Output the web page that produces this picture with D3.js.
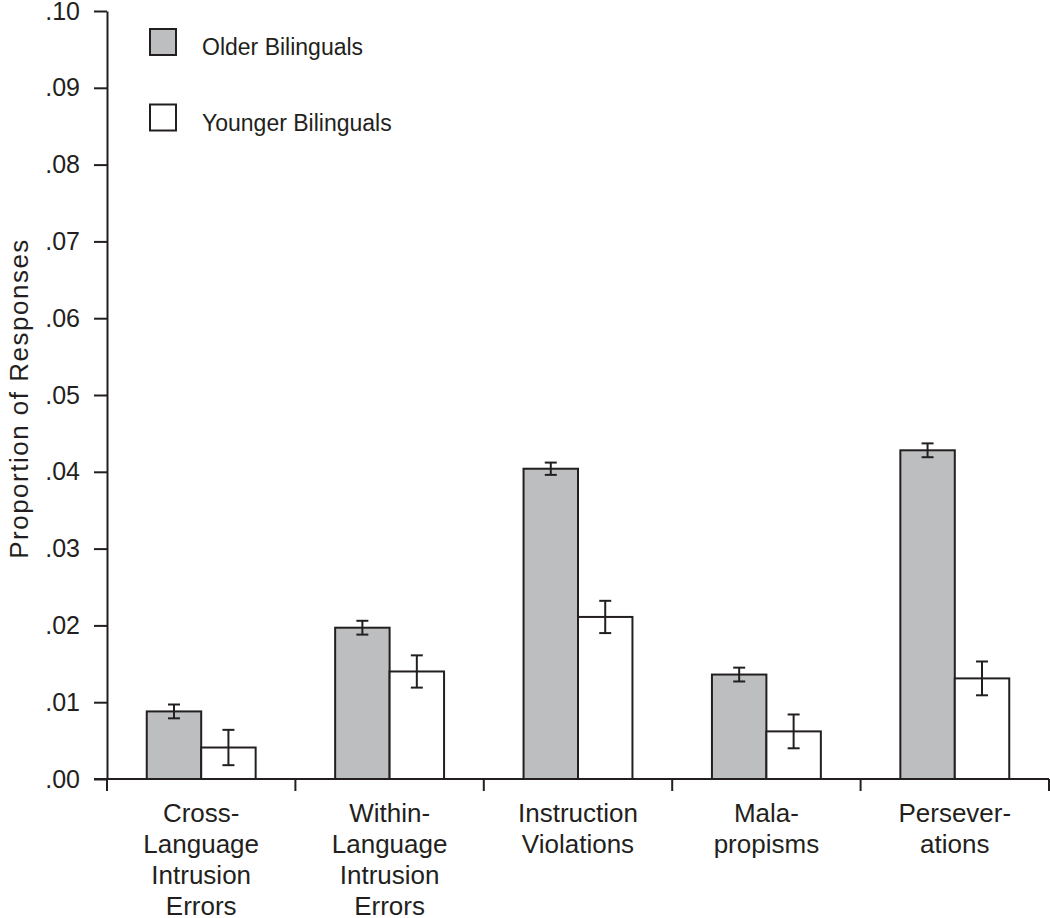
<!DOCTYPE html>
<html>
<head>
<meta charset="utf-8">
<script src="https://cdn.jsdelivr.net/npm/d3@7"></script>
<style>
  body { margin: 0; background: #fff; }
  svg text { font-family: "Liberation Sans", Arial, sans-serif; fill: #231f20; }
</style>
</head>
<body>
<svg width="1050" height="918"></svg>
<script>
//data
const categories = ["Cross-Language Intrusion Errors", "Within-Language Intrusion Errors", "Instruction Violations", "Malapropisms", "Perseverations"];
const categoryLines = [
    ["Cross-", "Language", "Intrusion", "Errors"],
    ["Within-", "Language", "Intrusion", "Errors"],
    ["Instruction", "Violations"],
    ["Mala-", "propisms"],
    ["Persever-", "ations"]
];
const groups = ["Older Bilinguals", "Younger Bilinguals"];
const olderValues = [0.0088, 0.0197, 0.0404, 0.0136, 0.0428];
const olderErrors = [0.0009, 0.0009, 0.0008, 0.0009, 0.0009];
const youngerValues = [0.0041, 0.0140, 0.0211, 0.0062, 0.0131];
const youngerErrors = [0.0023, 0.0021, 0.0021, 0.0022, 0.0022];
const yTicks = [0, 0.01, 0.02, 0.03, 0.04, 0.05, 0.06, 0.07, 0.08, 0.09, 0.10];

const ink = "#231f20";
const colors = {"Older Bilinguals": "#bdbec0", "Younger Bilinguals": "#ffffff"};

//layout
const margin = {top: 11, right: 1, bottom: 139, left: 107};
const width = 1050 - margin.left - margin.right;
const height = 918 - margin.top - margin.bottom;

const rows = [];
categories.forEach((c, i) => {
    rows.push({cat: c, group: groups[0], value: olderValues[i], err: olderErrors[i]});
    rows.push({cat: c, group: groups[1], value: youngerValues[i], err: youngerErrors[i]});
});

//scales
const x0 = d3.scaleBand()
    .domain(categories)
    .range([0, width])
    .padding(0);

const x1 = d3.scaleBand()
    .domain(groups)
    .range([0, x0.bandwidth()])
    .paddingInner(0)
    .paddingOuter(0.73);

const y = d3.scaleLinear()
    .domain([0, 0.10])
    .range([height, 0]);

const svg = d3.select("svg")
    .append("g")
    .attr("transform", "translate(" + margin.left + "," + margin.top + ")");

//y axis
const gY = svg.append("g")
    .call(d3.axisLeft(y)
        .tickValues(yTicks)
        .tickSize(13)
        .tickPadding(14)
        .tickSizeOuter(0)
        .tickFormat(d => d3.format(".2f")(d).replace(/^0/, "")));

gY.select(".domain").attr("stroke", ink).attr("stroke-width", 2);
gY.selectAll(".tick line").attr("stroke", ink).attr("stroke-width", 2);
gY.selectAll(".tick text")
    .style("font-size", "25px")
    .style("font-family", "'Liberation Sans', Arial, sans-serif")
    .attr("fill", ink);

//y label
svg.append("text")
    .attr("transform", "rotate(-90)")
    .attr("x", -387.5)
    .attr("y", -79)
    .style("text-anchor", "middle")
    .style("font-size", "26px")
    .style("letter-spacing", "1.5px")
    .text("Proportion of Responses");

//bars
const barG = svg.append("g");

barG.selectAll(".bar")
    .data(rows)
    .enter()
    .append("rect")
    .attr("class", "bar")
    .attr("x", d => x0(d.cat) + x1(d.group))
    .attr("y", d => y(d.value))
    .attr("width", x1.bandwidth())
    .attr("height", d => y(0) - y(d.value))
    .attr("fill", d => colors[d.group])
    .attr("stroke", ink)
    .attr("stroke-width", 2);

//error bars
const capW = 6;
const errG = barG.selectAll(".err")
    .data(rows)
    .enter()
    .append("g")
    .attr("class", "err")
    .attr("stroke", ink)
    .attr("stroke-width", 2);

errG.append("line")
    .attr("x1", d => x0(d.cat) + x1(d.group) + x1.bandwidth() / 2)
    .attr("x2", d => x0(d.cat) + x1(d.group) + x1.bandwidth() / 2)
    .attr("y1", d => y(d.value + d.err))
    .attr("y2", d => y(d.value - d.err));

errG.append("line")
    .attr("x1", d => x0(d.cat) + x1(d.group) + x1.bandwidth() / 2 - capW)
    .attr("x2", d => x0(d.cat) + x1(d.group) + x1.bandwidth() / 2 + capW)
    .attr("y1", d => y(d.value + d.err))
    .attr("y2", d => y(d.value + d.err));

errG.append("line")
    .attr("x1", d => x0(d.cat) + x1(d.group) + x1.bandwidth() / 2 - capW)
    .attr("x2", d => x0(d.cat) + x1(d.group) + x1.bandwidth() / 2 + capW)
    .attr("y1", d => y(d.value - d.err))
    .attr("y2", d => y(d.value - d.err));

//x axis
const gX = svg.append("g")
    .attr("transform", "translate(0," + height + ")");

gX.append("line")
    .attr("x1", -13)
    .attr("x2", width)
    .attr("stroke", ink)
    .attr("stroke-width", 2);

const edges = categories.map(c => x0(c)).concat([x0.range()[1]]);
gX.selectAll(".xtick")
    .data(edges)
    .enter()
    .append("line")
    .attr("class", "xtick")
    .attr("x1", d => d)
    .attr("x2", d => d)
    .attr("y1", 0)
    .attr("y2", 12)
    .attr("stroke", ink)
    .attr("stroke-width", 2);

const labels = gX.selectAll(".xlabel")
    .data(categories)
    .enter()
    .append("text")
    .attr("class", "xlabel")
    .attr("x", d => x0(d) + x0.bandwidth() / 2)
    .attr("y", 43)
    .style("text-anchor", "middle")
    .style("font-size", "26px");

labels.selectAll("tspan")
    .data((d, i) => categoryLines[i])
    .enter()
    .append("tspan")
    .attr("x", function() { return d3.select(this.parentNode).attr("x"); })
    .attr("dy", (d, i) => i === 0 ? 0 : 31)
    .text(d => d);

//legend
const legend = svg.append("g")
    .attr("transform", "translate(" + (150 - margin.left) + "," + (29 - margin.top) + ")");

const legendItems = legend.selectAll(".legend")
    .data(groups)
    .enter()
    .append("g")
    .attr("transform", (d, i) => "translate(0," + i * 75.5 + ")");

legendItems.append("rect")
    .attr("width", 26)
    .attr("height", 26)
    .attr("fill", d => colors[d])
    .attr("stroke", ink)
    .attr("stroke-width", 2);

legendItems.append("text")
    .attr("x", 52)
    .attr("y", 26)
    .style("font-size", "23px")
    .text(d => d);
</script>
</body>
</html>
